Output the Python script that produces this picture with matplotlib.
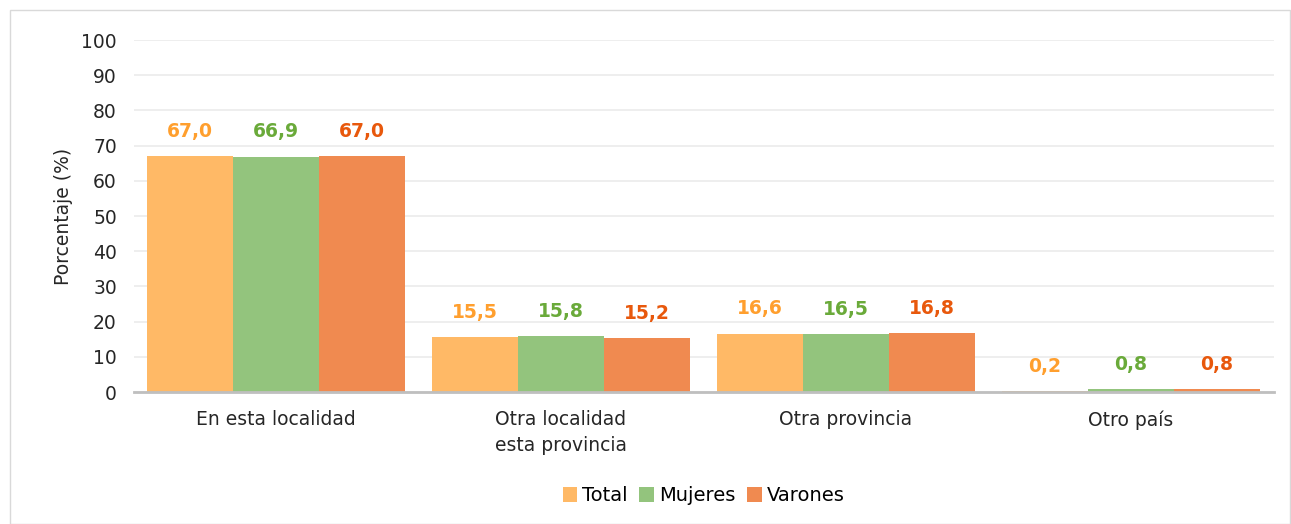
import matplotlib
matplotlib.use("Agg")
import matplotlib.pyplot as plt
import numpy as np
from matplotlib.patches import Rectangle

categories = ["En esta localidad", "Otra localidad\nesta provincia", "Otra provincia", "Otro país"]
series_names = ["Total", "Mujeres", "Varones"]
total = [67.0, 15.5, 16.6, 0.2]
mujeres = [66.9, 15.8, 16.5, 0.8]
varones = [67.0, 15.2, 16.8, 0.8]
yticks = [0, 10, 20, 30, 40, 50, 60, 70, 80, 90, 100]

bar_colors = ["#FFB966", "#93C47D", "#F08A50"]
label_colors = ["#FF9F2E", "#6AAA3A", "#E8580C"]

plt.rcParams['font.family'] = ['DejaVu Sans']

fig = plt.figure(figsize=(12.91, 5.24), dpi=100)
fig.patches.append(Rectangle((10/1291, 0), 1 - 11/1291, 1 - 10/524, transform=fig.transFigure,
                             fill=False, edgecolor="#D9D9D9", linewidth=1))
ax = fig.add_axes([133.5/1291, 1 - 392/524, (1273.5 - 133.5)/1291, (392 - 40)/524])

x = np.arange(len(categories))
w = 0.302
data = [total, mujeres, varones]
for i, (vals, name) in enumerate(zip(data, series_names)):
    pos = x + (i - 1) * w
    ax.bar(pos, vals, width=w, color=bar_colors[i], label=name, zorder=2, linewidth=0)
    for p, v in zip(pos, vals):
        ax.annotate(f"{v:.1f}".replace(".", ","), (p, v), xytext=(0, 11), textcoords="offset points",
                    ha="center", va="bottom", fontsize=13.5, fontweight="bold", color=label_colors[i])

ax.set_xlim(-0.5, len(categories) - 0.5)
ax.set_ylim(0, 100)
ax.set_yticks(yticks)
ax.set_xticks(x)
ax.set_xticklabels(categories, fontsize=13.5, color="#262626", linespacing=1.45)
ax.tick_params(axis="y", labelsize=13.5, colors="#262626", length=0, pad=12)
ax.tick_params(axis="x", length=0, pad=13)
ax.grid(axis="y", color="#EDEDED", linewidth=1.3, zorder=0)
for s in ["top", "right", "left"]:
    ax.spines[s].set_visible(False)
ax.spines["bottom"].set_color("#BFBFBF")
ax.spines["bottom"].set_linewidth(2)
ax.spines["bottom"].set_zorder(3)
ax.set_ylabel("Porcentaje (%)", fontsize=13.5, color="#262626", labelpad=6)

ax.legend(loc="center", bbox_to_anchor=(0.5, -0.295), ncol=3, frameon=False, fontsize=14,
          handlelength=0.75, handleheight=0.75, handletextpad=0.25, columnspacing=0.6)

fig.savefig("out.png", dpi=100, facecolor="white")
